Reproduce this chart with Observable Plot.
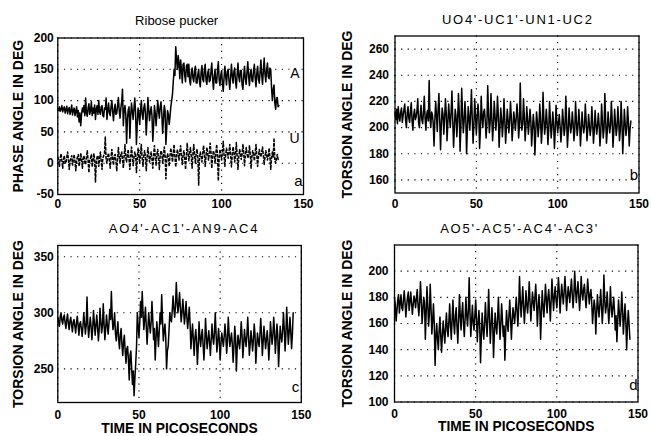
<!DOCTYPE html>
<html><head><meta charset="utf-8">
<script src="https://cdn.jsdelivr.net/npm/d3@7"></script>
<script src="https://cdn.jsdelivr.net/npm/@observablehq/plot@0.6"></script>
<style>
html,body{margin:0;padding:0;background:#fff;}
#chart{position:relative;width:651px;height:436px;overflow:hidden;font-family:"Liberation Sans",Arial,Helvetica,sans-serif;}
</style></head><body><div id="chart"></div>
<script>
// Sampling interval of all series (ps)
const stepPs = 0.5;
// Panel a: ribose pucker phase angle (deg), residue A (upper trace)
const riboseA = [88,84,90,83,86,92,82,87,90,80, 85,91,79,86,89,78,84,93,77,85,
88,76,83,90,74,84,66,80,60,78, 88,82,92,76,104,80,75,88,95,78,
84,98,76,88,80,93,70,86,92,78, 100,82,78,90,92,76,74,88,86,104,
70,85,96,80,76,90,100,82,68,86, 94,78,80,92,105,84,72,88,98,118,
60,84,92,78,32,70,85,90,40,76, 96,82,70,88,104,80,30,62,88,80,
62,84,100,78,70,88,95,80,45,72, 105,86,68,82,90,76,35,60,92,80,
60,78,100,84,72,90,98,80,48,70, 92,84,30,56,84,78,62,74,90,100,
110,130,150,140,186,165,150,172,160,135, 165,150,128,158,160,140,130,155,158,138,
158,132,125,145,152,136,130,148,155,128, 128,142,150,130,122,146,156,134,130,150,
158,132,126,144,150,130,132,146,160,136, 118,138,150,128,128,148,162,134,124,140,
148,128,115,136,155,140,125,146,150,132, 118,136,158,140,128,146,152,130,120,142,
160,138,130,148,148,126,118,140,155,134, 126,146,162,138,124,144,150,132,130,148,
158,136,122,144,155,134,128,146,165,140, 126,148,168,142,130,150,160,138,135,152,
150,120,100,118,125,96,86,104,105,90, 92];
// residue U (lower, dashed trace)
const riboseU = [10,2,-5,8,15,4,-8,6,12,0, 0,10,18,5,-10,4,8,12,-3,6,
14,2,-12,5,10,14,-5,3,16,6, -8,8,12,2,-2,10,20,4,-15,6,
8,14,-6,4,15,6,-30,2,10,12, -5,6,18,4,-10,8,12,16,42,5,
0,12,16,4,-8,10,22,6,-3,12, 14,2,-12,8,25,10,0,14,18,6,
-8,12,30,8,2,14,22,6,-10,10, 26,12,-4,8,18,14,-15,6,24,10,
0,16,30,8,-5,12,20,10,-12,8, 25,14,2,10,18,6,-8,12,28,10,
-3,14,22,8,-10,12,20,16,0,10, 26,14,-25,6,15,10,-5,12,24,14,
2,16,30,10,-6,12,22,14,5,18, 28,10,-2,14,20,8,-10,12,32,16,
4,18,25,10,-8,14,30,12,0,16, 22,10,-35,8,18,12,2,16,28,14,
-5,12,25,16,5,14,32,18,-8,10, 20,14,0,16,30,12,-28,8,22,14,
5,18,35,12,-5,14,24,16,8,18, 30,12,-6,14,26,18,2,14,33,12,
-10,10,22,16,6,14,30,18,-4,12, 25,16,8,12,28,14,-8,10,20,14,
4,16,30,12,-5,10,22,14,10,18, 26,12,-2,10,20,14,5,12,24,10,
-10,8,18,10,40,4,0,8,14,6, 5];
// Panel b: UO4'-UC1'-UN1-UC2 torsion (deg)
const torsionB = [212,206,214,203,216,208,205,212,215,204, 209,214,218,206,200,211,216,207,204,213,
219,205,198,210,214,206,208,213,222,204, 200,210,217,206,203,212,224,207,198,210,
213,205,236,208,200,212,210,203,186,206, 220,209,197,214,226,205,183,203,215,210,
195,207,222,211,190,204,218,208,200,212, 228,206,185,200,214,209,193,205,226,212,
182,200,230,211,196,205,220,208,180,199, 216,207,198,212,229,206,188,202,222,209,
195,207,218,210,184,198,224,208,200,212, 214,205,192,203,232,210,196,204,226,208,
190,202,220,209,198,206,224,210,185,200, 215,207,193,203,222,206,188,200,214,206,
196,205,220,208,190,200,212,206,198,207, 218,209,192,202,234,206,198,203,222,208,
190,201,216,206,195,204,214,205,186,198, 210,203,179,196,212,205,193,201,218,206,
188,199,227,207,195,202,214,204,187,198, 220,206,192,200,212,203,184,197,217,205,
196,203,210,201,189,198,214,205,194,200, 224,206,185,197,215,204,196,201,212,203,
190,198,220,205,194,201,214,204,186,197, 212,202,196,201,218,205,190,198,210,202,
194,200,216,204,188,197,213,203,195,201, 211,202,186,196,218,205,192,199,226,206,
188,197,212,203,196,202,220,206,185,196, 214,204,194,200,216,205,190,198,220,205,
180,195,214,203,194,200,216,204,186,199, 205];
// Panel c: AO4'-AC1'-AN9-AC4 torsion (deg)
const torsionC = [296,292,288,297,300,293,290,296,298,291, 286,294,299,290,285,293,296,289,283,292,
294,288,282,291,297,289,280,290,292,286, 279,288,300,291,281,289,314,290,278,287,
296,288,276,286,302,291,280,289,298,287, 275,285,304,292,282,288,308,290,276,286,
298,289,281,290,303,294,319,296,285,290, 300,282,275,284,292,276,268,280,286,272,
262,274,280,266,255,268,270,258,240,262, 266,250,236,248,226,242,255,270,300,288,
278,292,310,296,319,300,285,294,305,288, 272,286,300,290,282,292,310,294,276,286,
258,276,292,282,270,284,300,290,316,294, 275,284,290,278,250,266,270,284,300,294,
292,302,315,304,296,306,327,310,300,308, 318,304,292,300,312,302,290,298,310,296,
286,295,305,290,268,280,290,276,262,278, 285,274,254,270,292,278,270,280,285,272,
258,272,295,280,268,276,284,274,262,276, 290,278,272,282,300,281,265,274,286,276,
258,272,282,276,270,279,290,280,264,274, 296,282,270,276,282,272,256,270,288,278,
248,268,280,274,268,278,292,280,260,272, 285,276,270,280,296,279,262,272,284,276,
266,276,290,280,255,270,282,275,270,280, 295,282,262,274,288,278,268,276,284,274,
258,272,292,282,272,280,296,284,264,276, 290,280,252,270,288,279,274,284,300,286,
266,280,305,288,272,282,296,284,268,280, 300];
// Panel d: AO5'-AC5'-AC4'-AC3' torsion (deg)
const torsionD = [180,174,162,170,178,182,168,176,182,172, 170,178,185,176,165,174,180,184,170,176,
184,176,167,174,181,178,172,180,186,174, 166,176,192,178,160,170,180,176,148,168,
188,174,158,168,190,172,152,162,175,160, 128,150,160,148,140,155,165,150,138,152,
162,152,145,158,168,155,150,162,175,158, 148,164,178,160,152,166,172,158,145,162,
182,166,155,168,176,160,150,164,180,166, 158,170,195,168,150,162,174,160,155,166,
178,164,146,160,170,158,130,150,168,156, 148,160,176,162,150,164,186,165,145,158,
172,160,134,152,168,158,152,164,180,162, 148,160,175,162,150,158,132,154,170,160,
154,166,178,164,148,162,172,166,160,170, 180,170,158,172,196,178,165,176,188,174,
160,172,185,174,168,178,192,176,162,174, 184,176,170,180,190,176,158,172,182,172,
148,168,185,174,165,176,190,178,168,180, 186,176,162,178,194,180,170,182,188,178,
172,182,195,184,168,180,190,182,175,184, 196,184,170,180,188,182,176,186,194,182,
172,182,200,186,176,184,192,182,170,180, 196,184,178,186,190,180,172,182,194,184,
175,182,186,176,160,170,178,172,152,168, 182,172,165,174,186,174,160,172,197,178,
168,174,184,172,160,170,188,174,165,172, 180,170,155,166,146,162,178,168,158,168,
184,170,152,164,175,162,140,158,170,160, 148];

const xTicks = [0, 50, 100, 150];
const yTicksA = [-50, 0, 50, 100, 150, 200];
const yTicksB = [160, 180, 200, 220, 240, 260];
const yTicksC = [250, 300, 350];
const yTicksD = [100, 120, 140, 160, 180, 200];
const titles = ["Ribose pucker", "UO4'-UC1'-UN1-UC2", "AO4'-AC1'-AN9-AC4", "AO5'-AC5'-AC4'-AC3'"];
const panelLetters = ["a", "b", "c", "d"];
const seriesNames = ["A", "U"];
const yLabelPhase = "PHASE ANGLE IN DEG";
const yLabelTorsion = "TORSION ANGLE IN DEG";
const xLabelText = "TIME IN PICOSECONDS";

const FONT = '"Liberation Sans", Arial, Helvetica, sans-serif';
const rows = arr => arr.map((v, i) => ({t: i * stepPs, v}));
const gridStyle = {stroke: "#000", strokeOpacity: 1, strokeWidth: 1.1, strokeDasharray: "1.2,5.4"};
const txt = {fill: "#000", lineAnchor: "middle"};

function panel(o) {
  const W = o.box[2], H = o.box[3];
  const marks = [
    Plot.gridX({ticks: xTicks, ...gridStyle}),
    Plot.gridY({ticks: o.yTicks, ...gridStyle}),
    ...o.lines,
    Plot.frame({stroke: "#000", strokeWidth: 1.3}),
    Plot.axisX({ticks: xTicks, tickSize: 0, tickPadding: o.xPad, fontSize: 12, fontWeight: "bold", label: null, tickFormat: d => String(d)}),
    Plot.axisY({ticks: o.yTicks, tickSize: 0, tickPadding: o.yPad, fontSize: 12, fontWeight: "bold", label: null, tickFormat: d => String(d)}),
    Plot.text([o.title], {...txt, frameAnchor: "top", textAnchor: "middle", dx: o.titleDx, dy: o.titleDy, fontSize: 13}),
    Plot.text([o.yLabel], {...txt, frameAnchor: "left", textAnchor: "middle", rotate: -90, dx: o.yLabelDx, fontSize: 14, fontWeight: "bold"}),
    Plot.text([o.letter], {...txt, frameAnchor: "bottom-right", textAnchor: "end", dx: o.letterDx, dy: o.letterDy, fontSize: 15}),
    ...(o.extra || [])
  ];
  if (o.xLabel) marks.push(Plot.text([o.xLabel], {...txt, frameAnchor: "bottom", textAnchor: "middle", dy: o.xLabelDy, fontSize: 13.8, fontWeight: "bold"}));
  const svg = Plot.plot({
    width: W, height: H,
    marginLeft: o.frame[0] - o.box[0],
    marginRight: o.box[0] + W - o.frame[2],
    marginTop: o.frame[1] - o.box[1],
    marginBottom: o.box[1] + H - o.frame[3],
    x: {domain: [0, 150]},
    y: {domain: o.yDomain},
    style: {position: "absolute", left: o.box[0] + "px", top: o.box[1] + "px", background: "transparent", overflow: "visible", fontFamily: FONT, color: "#000"},
    marks
  });
  if (o.spacing) {
    d3.select(svg).selectAll("text").filter(function() { return this.textContent === o.title; })
      .attr("letter-spacing", o.spacing);
  }
  document.getElementById("chart").appendChild(svg);
}

const lineStyle = {x: "t", y: "v", stroke: "#000", strokeWidth: 1.5};

panel({
  box: [0, 0, 325, 218], frame: [57.3, 37.5, 303, 194],
  yDomain: [-50, 200], yTicks: yTicksA,
  lines: [
    Plot.line(rows(riboseA), lineStyle),
    Plot.line(rows(riboseU), {...lineStyle, strokeDasharray: "3.5,1", strokeLinecap: "butt"})
  ],
  title: titles[0], titleDx: -4, titleDy: -17.5,
  yLabel: yLabelPhase, yLabelDx: -39.3,
  letter: panelLetters[0], letterDx: -1, letterDy: -13.2,
  xPad: 5, yPad: 4,
  extra: [
    Plot.text([seriesNames[0]], {...txt, frameAnchor: "top-right", textAnchor: "end", dx: -4, dy: 35.8, fontSize: 14}),
    Plot.text([seriesNames[1]], {...txt, frameAnchor: "top-right", textAnchor: "end", dx: -4, dy: 100.8, fontSize: 14})
  ]
});

panel({
  box: [325, 0, 326, 218], frame: [394.5, 35.5, 638.5, 192.5],
  yDomain: [150, 270], yTicks: yTicksB,
  lines: [Plot.line(rows(torsionB), lineStyle)],
  title: titles[1], titleDx: 0.8, titleDy: -16.2, spacing: 1.7,
  yLabel: yLabelTorsion, yLabelDx: -47.8,
  letter: panelLetters[1], letterDx: -1, letterDy: -17.8,
  xPad: 6.5, yPad: 6
});

panel({
  box: [0, 218, 325, 218], frame: [57.3, 245, 300.8, 402],
  yDomain: [220, 360], yTicks: yTicksC,
  lines: [Plot.line(rows(torsionC), lineStyle)],
  title: titles[2], titleDx: 4.5, titleDy: -16.7, spacing: 1.8,
  yLabel: yLabelTorsion, yLabelDx: -39,
  letter: panelLetters[2], letterDx: -2, letterDy: -15.3,
  xPad: 8, yPad: 4,
  xLabel: xLabelText, xLabelDy: 26
});

panel({
  box: [325, 218, 326, 218], frame: [394, 244.5, 637.5, 401.5],
  yDomain: [100, 220], yTicks: yTicksD,
  lines: [Plot.line(rows(torsionD), lineStyle)],
  title: titles[3], titleDx: 3.4, titleDy: -16.2, spacing: 1.8,
  yLabel: yLabelTorsion, yLabelDx: -47.3,
  letter: panelLetters[3], letterDx: -0.5, letterDy: -16.8,
  xPad: 7, yPad: 6,
  xLabel: xLabelText, xLabelDy: 25
});
</script></body></html>
